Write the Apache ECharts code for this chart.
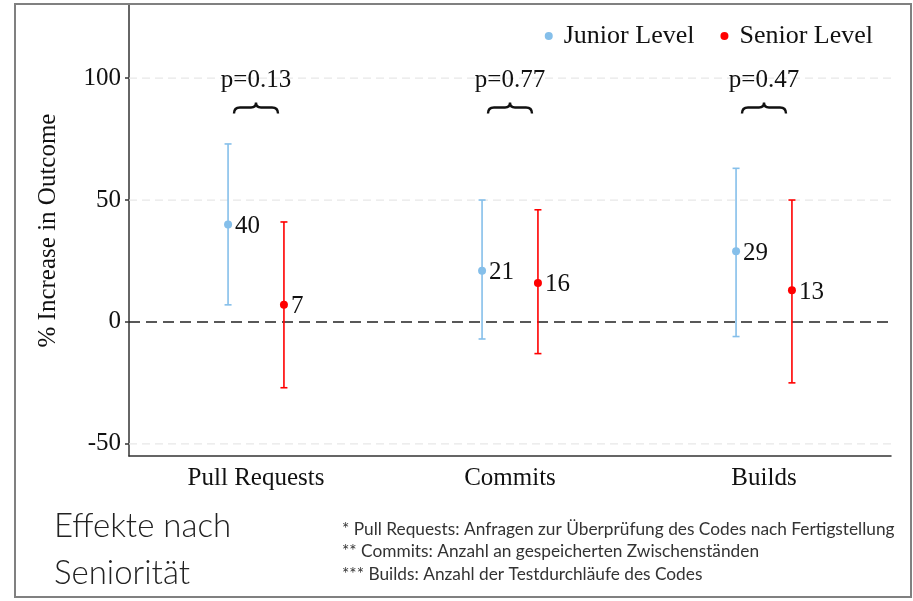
<!DOCTYPE html>
<html>
<head>
<meta charset="utf-8">
<script src="https://cdn.jsdelivr.net/npm/echarts@6/dist/echarts.min.js"></script>
<style>
html,body{margin:0;padding:0;background:#fff;}
#chart{width:913px;height:601px;}
</style>
</head>
<body>
<div id="chart"></div>
<script>
// ---- data ----
const categories = ['Pull Requests', 'Commits', 'Builds'];
const juniorEst  = [40, 21, 29];
const juniorLow  = [7, -7, -6];
const juniorHigh = [73, 50, 63];
const seniorEst  = [7, 16, 13];
const seniorLow  = [-27, -13, -25];
const seniorHigh = [41, 46, 50];
const pValues = ['p=0.13', 'p=0.77', 'p=0.47'];
const yTicks = [-50, 0, 50, 100];
const gridValues = [-50, 50, 100];
const zeroLine = [0];
const braceLevel = 90;
const pLabelLevel = 99;
const footnotes = [
  '* Pull Requests: Anfragen zur Überprüfung des Codes nach Fertigstellung',
  '** Commits: Anzahl an gespeicherten Zwischenständen',
  '*** Builds: Anzahl der Testdurchläufe des Codes'
];
const titleLines = ['Effekte nach', 'Seniorität'];

const JUNIOR = '#85BFEA';
const SENIOR = '#FF0000';
const SERIF = '"Liberation Serif", "Times New Roman", serif';
const DODGE = 0.11;

function errorSeries(name, color, est, low, high, sign) {
  return {
    type: 'custom',
    name: name,
    itemStyle: { color: color },
    data: categories.map((c, i) => [i, est[i], low[i], high[i]]),
    encode: { x: 0, y: [1, 2, 3] },
    z: 5,
    renderItem: function (params, api) {
      const i = api.value(0);
      const band = api.size([1, 0])[0];
      const dx = sign * band * DODGE;
      const pe = api.coord([i, api.value(1)]);
      const pl = api.coord([i, api.value(2)]);
      const ph = api.coord([i, api.value(3)]);
      const x = pe[0] + dx;
      const cap = 3.5;
      const ls = { stroke: color, lineWidth: 1.6 };
      return {
        type: 'group',
        children: [
          { type: 'line', shape: { x1: x, y1: pl[1], x2: x, y2: ph[1] }, style: ls },
          { type: 'line', shape: { x1: x - cap, y1: pl[1], x2: x + cap, y2: pl[1] }, style: ls },
          { type: 'line', shape: { x1: x - cap, y1: ph[1], x2: x + cap, y2: ph[1] }, style: ls },
          { type: 'circle', shape: { cx: x, cy: pe[1], r: 4 }, style: { fill: color } },
          { type: 'text', x: x + 7, y: pe[1] + 2,
            style: { text: String(api.value(1)), fill: '#111', font: '25px ' + SERIF,
                     textAlign: 'left', textVerticalAlign: 'middle' } }
        ]
      };
    }
  };
}

const chart = echarts.init(document.getElementById('chart'));
const option = {
  animation: false,
  backgroundColor: '#fff',
  grid: { left: 129, right: 22, top: 5, bottom: 145, containLabel: false },
  legend: {
    data: ['Junior Level', 'Senior Level'],
    right: 35, top: 18,
    icon: 'circle', itemWidth: 8, itemHeight: 8, itemGap: 26,
    textStyle: { fontFamily: SERIF, fontSize: 26, color: '#111', padding: [0, 0, 0, 6] }
  },
  xAxis: {
    type: 'category',
    data: categories,
    boundaryGap: true,
    axisLine: { onZero: false, lineStyle: { color: '#333', width: 1.5 } },
    axisTick: { alignWithLabel: true, length: 5, lineStyle: { color: '#333', width: 1.5 } },
    axisLabel: { fontFamily: SERIF, fontSize: 25, color: '#111', margin: 10 },
    splitLine: { show: false }
  },
  yAxis: {
    type: 'value',
    min: -55, max: 130,
    name: '% Increase in Outcome',
    nameLocation: 'middle',
    nameGap: 68,
    nameTextStyle: { fontFamily: SERIF, fontSize: 25, color: '#111' },
    axisLine: { show: true, lineStyle: { color: '#333', width: 1.5 } },
    axisTick: { show: true, length: 4, customValues: yTicks, lineStyle: { color: '#333', width: 1.5 } },
    axisLabel: { fontFamily: SERIF, fontSize: 25, color: '#111', margin: 8, customValues: yTicks },
    splitLine: { show: false }
  },
  series: [
    {
      type: 'custom', name: 'grid', silent: true, z: 1,
      data: gridValues.map(v => [0, v]),
      renderItem: function (params, api) {
        const cs = params.coordSys;
        const y = api.coord([0, api.value(1)])[1];
        return { type: 'line', shape: { x1: cs.x, y1: y, x2: cs.x + cs.width, y2: y },
                 style: { stroke: '#e8e8e8', lineWidth: 1.2, lineDash: [8, 5] } };
      }
    },
    {
      type: 'custom', name: 'zero', silent: true, z: 2,
      data: zeroLine.map(v => [0, v]),
      renderItem: function (params, api) {
        const cs = params.coordSys;
        const y = api.coord([0, api.value(1)])[1];
        return { type: 'line', shape: { x1: cs.x, y1: y, x2: cs.x + cs.width, y2: y },
                 style: { stroke: '#222', lineWidth: 1.5, lineDash: [11, 6] } };
      }
    },
    errorSeries('Junior Level', JUNIOR, juniorEst, juniorLow, juniorHigh, -1),
    errorSeries('Senior Level', SENIOR, seniorEst, seniorLow, seniorHigh, 1),
    {
      type: 'custom', name: 'pvals', silent: true, z: 6,
      data: categories.map((c, i) => [i, braceLevel, pLabelLevel]),
      renderItem: function (params, api) {
        const i = api.value(0);
        const b = api.coord([i, api.value(1)]);
        const t = api.coord([i, api.value(2)]);
        const x = b[0], y = b[1];
        const w = 22, h = 11;
        const path = 'M' + (x - w) + ' ' + (y + h) +
          ' Q' + (x - w) + ' ' + (y + 5) + ' ' + (x - w + 6) + ' ' + (y + 5) +
          ' L' + (x - 5) + ' ' + (y + 5) +
          ' Q' + x + ' ' + (y + 5) + ' ' + x + ' ' + y +
          ' Q' + x + ' ' + (y + 5) + ' ' + (x + 5) + ' ' + (y + 5) +
          ' L' + (x + w - 6) + ' ' + (y + 5) +
          ' Q' + (x + w) + ' ' + (y + 5) + ' ' + (x + w) + ' ' + (y + h);
        return {
          type: 'group',
          children: [
            { type: 'path', shape: { pathData: path }, style: { stroke: '#111', lineWidth: 2.4, fill: null } },
            { type: 'text', x: t[0], y: t[1],
              style: { text: pValues[i], font: '25px ' + SERIF, fill: '#111',
                       textAlign: 'center', textVerticalAlign: 'middle' } }
          ]
        };
      }
    }
  ],
  graphic: [
    { type: 'rect', shape: { x: 15, y: 4, width: 896, height: 593 },
      style: { fill: null, stroke: '#808080', lineWidth: 2 }, z: 100 },
    { type: 'text', left: 54, top: 510,
      style: { text: titleLines[0], font: '300 33px Lato', fill: '#222' } },
    { type: 'text', left: 54, top: 557,
      style: { text: titleLines[1], font: '300 33px Lato', fill: '#222' } },
    { type: 'text', left: 342, top: 521,
      style: { text: footnotes[0], font: '17.3px Lato', fill: '#333' } },
    { type: 'text', left: 342, top: 543,
      style: { text: footnotes[1], font: '17.3px Lato', fill: '#333' } },
    { type: 'text', left: 342, top: 566,
      style: { text: footnotes[2], font: '17.3px Lato', fill: '#333' } }
  ]
};
chart.setOption(option);
</script>
</body>
</html>
